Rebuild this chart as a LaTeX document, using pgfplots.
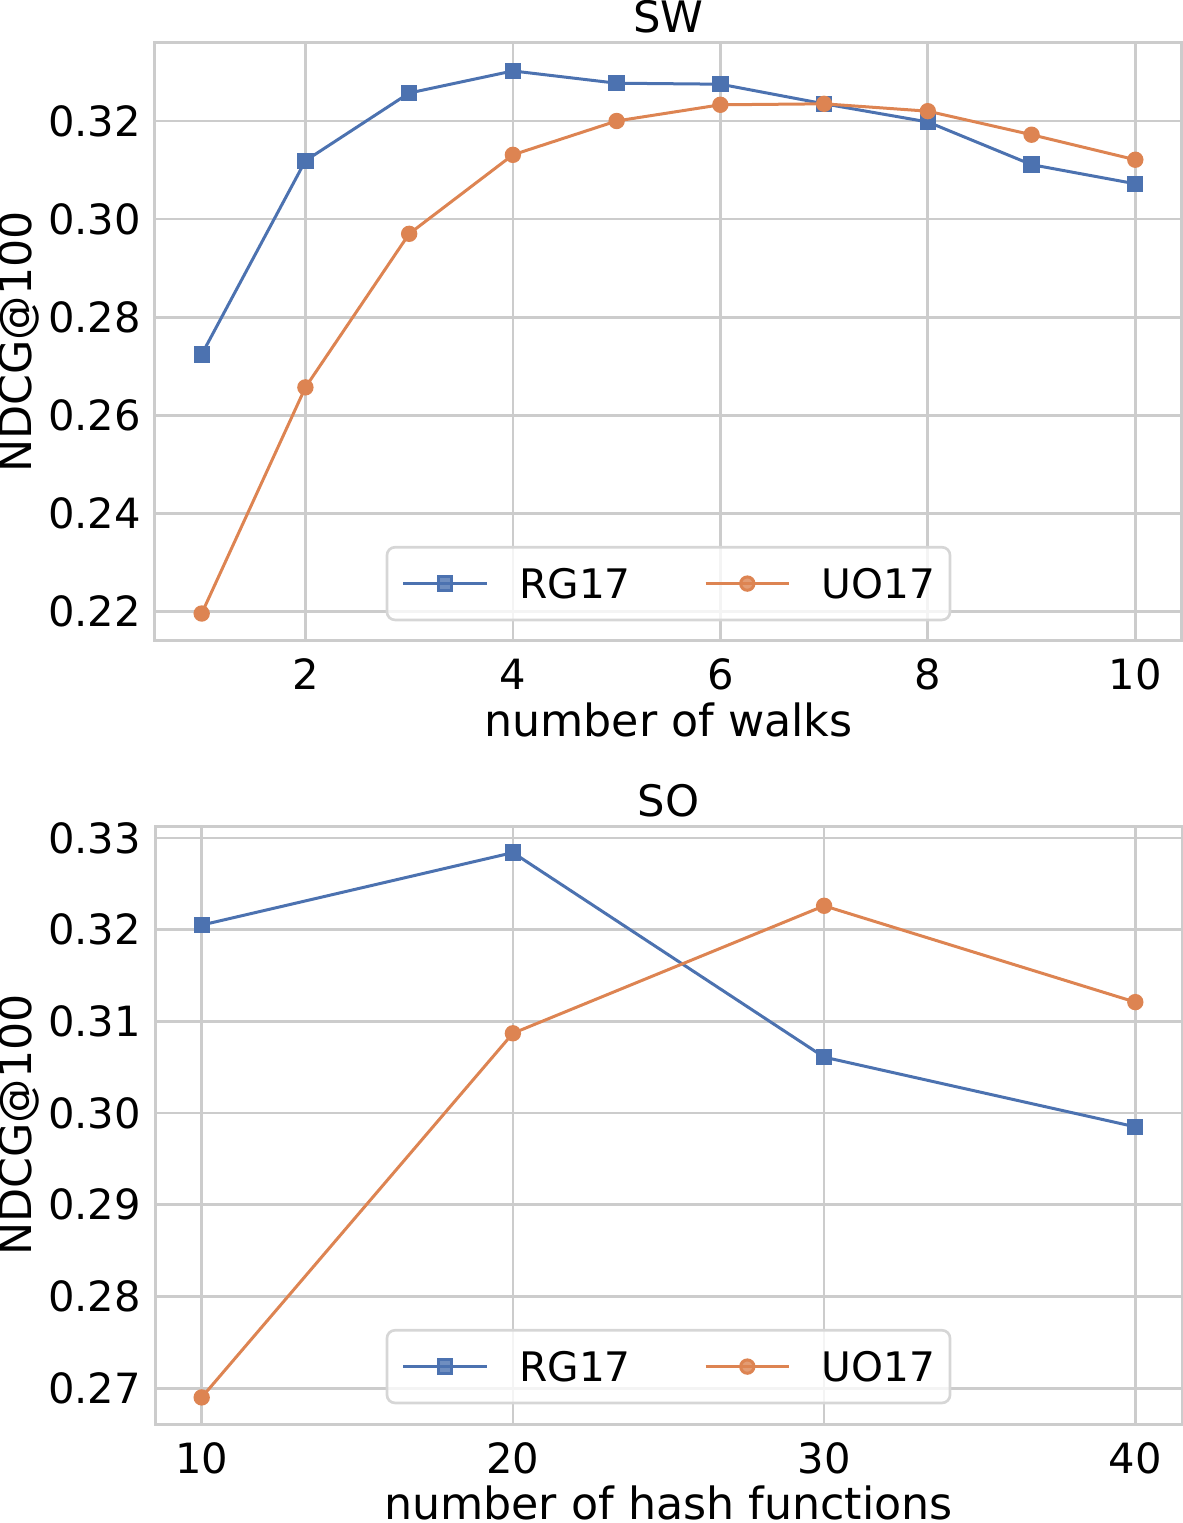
\documentclass[border=0pt]{standalone}
\usepackage{fontspec}
\setmainfont{DejaVu Sans}
\usepackage{pgfplots}
\pgfplotsset{compat=1.18}
\definecolor{cblue}{HTML}{4C72B0}
\definecolor{corange}{HTML}{DD8452}
\definecolor{gridc}{HTML}{CCCCCC}
\definecolor{legc}{HTML}{D6D6D6}

\pgfplotsset{
  sbstyle/.style={
    scale only axis, width=308.1pt, height=179.4pt,
    font=\fontsize{12.5}{14}\selectfont,
    axis line style={draw=gridc, line width=0.9pt},
    grid=major, grid style={gridc, line width=0.8pt},
    major tick length=0pt, tick style={draw=none},
    /pgf/number format/assume math mode=true,
    scaled y ticks=false,
    y tick label style={/pgf/number format/.cd, fixed, fixed zerofill, precision=2, /tikz/.cd},
    xticklabel style={anchor=base, inner sep=0pt, yshift=-14.7pt},
    yticklabel style={anchor=east, inner sep=0pt, xshift=-4pt},
    every axis x label/.style={at={(axis description cs:0.5,0)}, anchor=base, yshift=-28.6pt,
      font=\fontsize{13.3}{15}\selectfont},
    every axis y label/.style={at={(axis description cs:-0.1198,0.5)}, anchor=base, rotate=90,
      font=\fontsize{13.3}{15}\selectfont},
    every axis title/.style={at={(0.5,1)}, anchor=base, yshift=3pt,
      font=\fontsize{13}{15}\selectfont},
    legend columns=2,
    legend style={at={(0.5,0.033)}, anchor=south, draw=legc, line width=0.8pt,
      fill=white, fill opacity=0.8, text opacity=1, rounded corners=2.4pt,
      inner xsep=4.5pt, inner ysep=6.3pt, font=\fontsize{12.2}{14}\selectfont,
      nodes={inner sep=0pt, text height=9.2pt, text depth=0pt},
      /tikz/every odd column/.append style={column sep=9.3pt},
      /tikz/every even column/.append style={column sep=22pt}},
    legend image code/.code={\draw[mark repeat=2, mark phase=2]
      plot coordinates {(0pt,0pt) (12.5pt,0pt) (25pt,0pt)};},
    rg/.style={cblue, line width=0.9pt, mark=square*, mark size=2pt, mark options={solid}},
    uo/.style={corange, line width=0.9pt, mark=*, mark size=2pt, mark options={solid}},
  }
}

\begin{document}
\begin{tikzpicture}
\begin{axis}[sbstyle, at={(0pt,0pt)},
  xmin=0.55, xmax=10.45, ymin=0.2140, ymax=0.3359,
  xtick={2,4,6,8,10}, ytick={0.22,0.24,0.26,0.28,0.30,0.32},
  title={SW}, xlabel={number of walks}, ylabel={NDCG@100}]
\addplot[rg] coordinates {(1,0.2724) (2,0.3119) (3,0.3257) (4,0.3302) (5,0.3277)
  (6,0.3275) (7,0.3235) (8,0.3198) (9,0.3111) (10,0.3072)};
\addplot[uo] coordinates {(1,0.2196) (2,0.2657) (3,0.2970) (4,0.3131) (5,0.3200)
  (6,0.3233) (7,0.3235) (8,0.3220) (9,0.3172) (10,0.3121)};
\legend{RG17,UO17}
\end{axis}

\begin{axis}[sbstyle, at={(0pt,-234.9pt)},
  xmin=8.5, xmax=41.5, ymin=0.2661, ymax=0.3313,
  xtick={10,20,30,40}, ytick={0.27,0.28,0.29,0.30,0.31,0.32,0.33},
  title={SO}, xlabel={number of hash functions}, ylabel={NDCG@100}]
\addplot[rg] coordinates {(10,0.3205) (20,0.3284) (30,0.3061) (40,0.2985)};
\addplot[uo] coordinates {(10,0.2690) (20,0.3087) (30,0.3226) (40,0.3121)};
\legend{RG17,UO17}
\end{axis}
\pgfresetboundingbox
\useasboundingbox (-46.5pt,-264.6pt) rectangle (308.1pt,192.3pt);
\end{tikzpicture}
\end{document}
